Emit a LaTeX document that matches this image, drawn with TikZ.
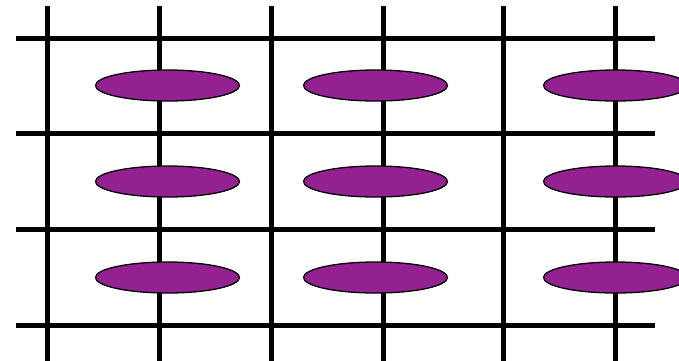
\documentclass[tikz,border=0pt]{standalone}
\definecolor{cellpurple}{RGB}{147,34,144}
\tikzset{
  gridline/.style={line width=5pt, black},
  cell/.style={ellipse, draw=black, line width=1.3pt, fill=cellpurple, minimum width=144pt, minimum height=31pt, inner sep=0pt}
}
\usetikzlibrary{shapes.geometric}
\begin{document}
\begin{tikzpicture}[x=1pt,y=-1pt]
\useasboundingbox (0,0) rectangle (679,360);
\clip (0,0) rectangle (679,360);
% horizontal lines
\foreach \y in {38,133.5,229.5,325}
  \draw[gridline] (16,\y) -- (655,\y);
% vertical lines
\foreach \x in {47.5,159.5,271.5,383.5,503,615.5}
  \draw[gridline] (\x,6) -- (\x,362);
% ellipses
\node[cell] (e11) at (167.5,85.5) {};
\node[cell] (e12) at (375.5,85.5) {};
\node[cell] (e13) at (615.5,85.5) {};
\node[cell] (e21) at (167.5,181.5) {};
\node[cell] (e22) at (375.5,181.5) {};
\node[cell] (e23) at (615.5,181.5) {};
\node[cell] (e31) at (167.5,277.5) {};
\node[cell] (e32) at (375.5,277.5) {};
\node[cell] (e33) at (615.5,277.5) {};
\end{tikzpicture}
\end{document}
